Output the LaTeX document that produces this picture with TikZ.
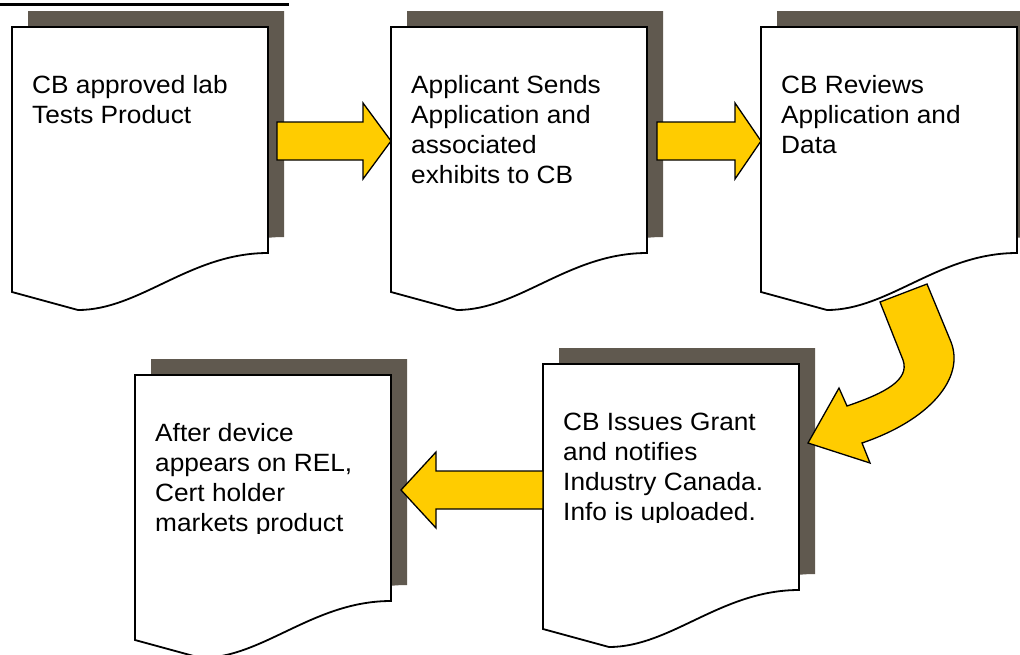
\documentclass[tikz,border=0pt]{standalone}
\usepackage{fontspec}
\setmainfont{Liberation Sans}[FakeStretch=1.05]
\definecolor{shadowc}{RGB}{96,89,79}
\definecolor{arrowc}{RGB}{255,204,0}
\tikzset{
  docbody/.style={draw=black, line width=1.8pt, fill=white, line join=miter},
  docshadow/.style={fill=shadowc},
  blockarrow/.style={draw=black, line width=1.3pt, fill=arrowc, line join=miter},
  doctext/.style={anchor=base west, inner sep=0pt, font=\fontsize{25}{30}\selectfont}
}
\newcommand\docat[4]{%
  \begin{scope}[shift={(#2,#3)}]
    \fill[docshadow] (16,-16) -- (272,-16) -- (272,210) .. controls (194,210) and (144,267) .. (82,267) -- (16,249) -- cycle;
    \draw[docbody] (0,0) -- (256,0) -- (256,226) .. controls (178,226) and (128,283) .. (66,283) -- (0,265) -- cycle;
    \begin{scope}
      \clip (0,0) rectangle (256,158);
      \node[doctext] (#1) at (20,66) {\begin{tabular}[t]{@{}l@{}}#4\end{tabular}};
    \end{scope}
  \end{scope}}
\begin{document}
\begin{tikzpicture}[x=1pt,y=-1pt]
\useasboundingbox (0,0) rectangle (1020,654);
\fill[white] (0,0) rectangle (1020,654);
% title underline
\draw[line width=3pt] (0,4.5) -- (289,4.5);
% documents
\docat{d1}{12}{27}{CB approved lab\\Tests Product}
\docat{d2}{391}{27}{Applicant Sends\\Application and\\associated\\exhibits to CB}
\docat{d3}{761}{27}{CB Reviews\\Application and\\Data}
\docat{d4}{135}{375}{After device\\appears on REL,\\Cert holder\\markets product}
\docat{d5}{543}{364}{CB Issues Grant\\and notifies\\Industry Canada.\\Info is uploaded.}
% arrows
\draw[blockarrow] (277,122) -- (363,122) -- (363,103) -- (391,141) -- (363,179) -- (363,160) -- (277,160) -- cycle;
\draw[blockarrow] (657,122) -- (735,122) -- (735,103) -- (761,141) -- (735,179) -- (735,160) -- (657,160) -- cycle;
\draw[blockarrow] (543,471) -- (436,471) -- (436,452) -- (401,490) -- (436,528) -- (436,509) -- (543,509) -- cycle;
\draw[blockarrow] (927,284) -- (951,342) .. controls (965,378) and (930,420) .. (862,443) -- (870,463) -- (808,443) -- (839,388) -- (847,406) .. controls (885,393) and (910,380) .. (903,360) -- (880,302) -- cycle;
\end{tikzpicture}
\end{document}
